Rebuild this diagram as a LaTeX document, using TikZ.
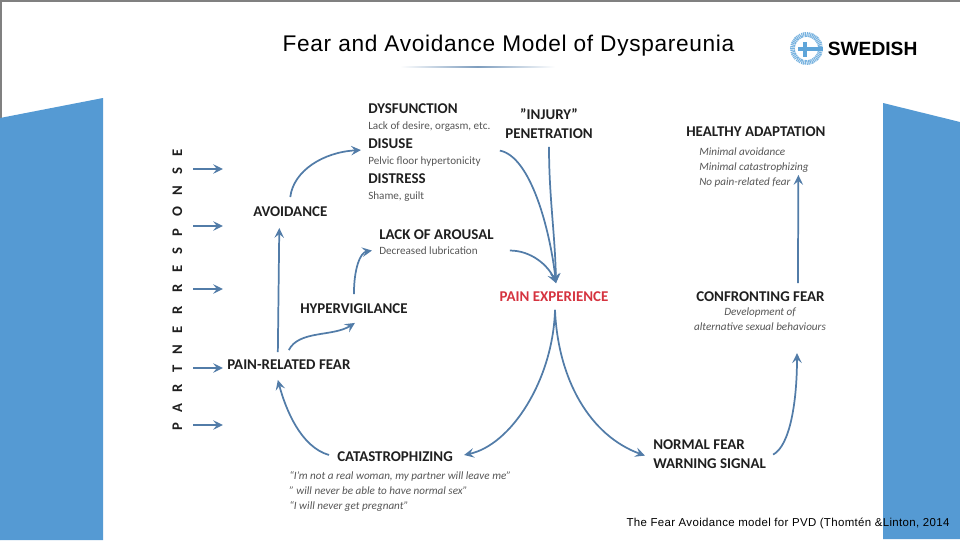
\documentclass[tikz,border=0pt]{standalone}
\usepackage{fontspec}
\setmainfont{Carlito}
\newfontfamily\slidefont{Liberation Sans}
\usepackage{tikz}
\usetikzlibrary{arrows.meta,positioning}
\usepackage{xcolor}
\definecolor{panelblue}{HTML}{559AD3}
\definecolor{flowblue}{HTML}{527CA8}
\definecolor{painred}{HTML}{D5333F}
\definecolor{subgrey}{HTML}{555555}
\definecolor{logoblue}{HTML}{5FA5D9}
\tikzset{
  headtext/.style={
    inner sep=0pt,
    text height=8.75pt,
    text depth=1.25pt,
    text=black!88,
    font=\fontsize{11.2}{13}\selectfont\bfseries
  },
  subtext/.style={
    inner sep=0pt,
    text height=6.75pt,
    text depth=1.25pt,
    text=subgrey,
    font=\fontsize{8.35}{10}\selectfont
  },
  quotetext/.style={
    subtext,
    font=\fontsize{8.35}{10}\selectfont\itshape
  },
  slidetext/.style={
    inner sep=0pt,
    text=black
  },
  arrow/.style={
    -{Stealth[length=2.6mm,width=2.5mm,inset=1mm]},
    line width=1.3pt,
    draw=flowblue
  }
}
\begin{document}
\begin{tikzpicture}[x=0.75pt,y=-0.75pt]
\useasboundingbox (0,0) rectangle (960,540);
% slide frame and side panels
\draw[gray,line width=0.8pt] (1,540) -- (1,1) -- (960,1);
\fill[panelblue] (0,118) -- (103,98) -- (103,540) -- (0,540) -- cycle;
\fill[panelblue] (883,103) -- (960,122) -- (960,539) -- (883,539) -- cycle;
\shade[left color=white,right color=white,middle color=flowblue!75] (400,66.7) rectangle (555,67.8);
% title and caption
\node[slidetext, font=\slidefont\addfontfeature{LetterSpace=3}\fontsize{17}{20}\selectfont] (title) at (508.5,45.5) {Fear and Avoidance Model of Dyspareunia};
\node[slidetext, font=\slidefont\addfontfeature{LetterSpace=3}\fontsize{8.6}{10}\selectfont] (caption) at (788,523) {The Fear Avoidance model for PVD (Thomtén \&Linton, 2014};
% logo
\draw[logoblue!85,line width=3.6pt,dash pattern=on 0.8pt off 0.5pt] (806.5,48.5) circle (14);
\draw[logoblue,line width=3.4pt] (798,49) -- (823,49);
\draw[logoblue,line width=3.4pt] (805,42) -- (805,57);
\node[slidetext, anchor=west, font=\slidefont\fontsize{14.4}{16}\selectfont\bfseries] (swedish) at (827.5,48.5) {SWEDISH};
% side label
\node[headtext, rotate=90, font=\addfontfeature{LetterSpace=77}\fontsize{11}{13}\selectfont\bfseries] (partner) at (177,290) {PARTNER RESPONSE};
\coordinate (partnera) at (193,169);
\coordinate (partnerb) at (193,226);
\coordinate (partnerc) at (193,289);
\coordinate (partnerd) at (193,368);
\coordinate (partnere) at (193,425);
% left column
\node[headtext, anchor=west] (dysfunction) at (368,108) {DYSFUNCTION};
\node[subtext, below=3.75pt of dysfunction.south west, anchor=north west] (dysfunctionsub) {Lack of desire, orgasm, etc.};
\node[headtext, below=3.75pt of dysfunctionsub.south west, anchor=north west] (disuse) {DISUSE};
\node[subtext, below=3.75pt of disuse.south west, anchor=north west] (disusesub) {Pelvic floor hypertonicity};
\node[headtext, below=3.75pt of disusesub.south west, anchor=north west] (distress) {DISTRESS};
\node[subtext, below=3.75pt of distress.south west, anchor=north west] (distresssub) {Shame, guilt};
\node[headtext, anchor=west] (avoidance) at (253,211) {AVOIDANCE};
\node[headtext, anchor=west] (arousal) at (379,234) {LACK OF AROUSAL};
\node[subtext, below=3pt of arousal.south west, anchor=north west] (arousalsub) {Decreased lubrication};
\node[headtext, anchor=west] (hypervigilance) at (300,308) {HYPERVIGILANCE};
\node[headtext, anchor=west] (fear) at (227,364) {PAIN-RELATED FEAR};
\node[headtext, anchor=west] (catastrophizing) at (337,456) {CATASTROPHIZING};
\node[quotetext, anchor=west] (quotewoman) at (289,476) {“I’m not a real woman, my partner will leave me”};
\node[quotetext, below=2.75pt of quotewoman.south west, anchor=north west] (quotesex) {” will never be able to have normal sex”};
\node[quotetext, below=2.75pt of quotesex.south west, anchor=north west] (quotepregnant) {“I will never get pregnant”};
% middle column
\node[headtext] (injury) at (549,114) {”INJURY”};
\node[headtext] (penetration) at (549,133) {PENETRATION};
\node[headtext, text=painred] (pain) at (554,296) {PAIN EXPERIENCE};
% right column
\node[headtext, anchor=west] (healthy) at (686,131) {HEALTHY ADAPTATION};
\node[quotetext, anchor=west] (healthya) at (699,152) {Minimal avoidance};
\node[quotetext, below=2.9pt of healthya.south west, anchor=north west] (healthyb) {Minimal catastrophizing};
\node[quotetext, below=2.9pt of healthyb.south west, anchor=north west] (healthyc) {No pain-related fear};
\node[headtext, anchor=west] (confronting) at (696,296) {CONFRONTING FEAR};
\node[quotetext] (confrontinga) at (760,312) {Development of};
\node[quotetext, below=2.5pt of confrontinga] (confrontingb) {alternative sexual behaviours};
\node[headtext, anchor=west] (normalfear) at (653,444) {NORMAL FEAR};
\node[headtext, below=4.25pt of normalfear.south west, anchor=north west] (warning) {WARNING SIGNAL};
% connectors
\draw[arrow] (partnera) -- ++(30,0);
\draw[arrow] (partnerb) -- ++(30,0);
\draw[arrow] (partnerc) -- ++(30,0);
\draw[arrow, shorten >=3pt] (partnerd) -- (partnerd -| fear.west);
\draw[arrow] (partnere) -- ++(30,0);
\draw[arrow] ([shift={(0,-7)}]avoidance.north) .. controls +(3,-26) and +(-38,2) .. ([shift={(-7,7)}]disuse.west);
\draw[arrow] ([shift={(-11,-5)}]fear.north) -- ([shift={(-11,10)}]avoidance.south);
\draw[arrow] ([shift={(0,-7)}]fear.north) .. controls +(10,-20) and +(-22,14) .. ([shift={(1,8)}]hypervigilance.south);
\draw[arrow] ([shift={(0,-7)}]hypervigilance.north) .. controls +(0,-25) and +(-12,2) .. ([shift={(-7,0)}]arousalsub.west);
\draw[arrow] (catastrophizing.west) ++(-8,-1) .. controls +(-28,-8) and +(8,30) .. ([shift={(-11,9)}]fear.south);
\draw[arrow] ([shift={(1,7)}]pain.south) .. controls +(-2,70) and +(47,-10) .. ([shift={(11,-1)}]catastrophizing.east);
\draw[arrow] ([shift={(1,7)}]pain.south) .. controls +(3,70) and +(-55,-20) .. ([shift={(-8,-1)}]warning.north west);
\draw[arrow] ([shift={(7,-2)}]warning.north east) .. controls +(17,-9) and +(0,48) .. ([shift={(37,21)}]confrontingb.south);
\draw[arrow] ([shift={(37.5,-6)}]confronting.north) -- ([shift={(42.5,37)}]healthy.south);
\draw[arrow] ([shift={(0,7)}]penetration.south) .. controls +(0,50) and +(-1,-50) .. ([shift={(2,-6)}]pain.north);
\draw[arrow] ([shift={(19,-10)}]disusesub.east) .. controls +(31,6) and +(-6,-53) .. ([shift={(2,-6)}]pain.north);
\draw[arrow] ([shift={(32,0)}]arousalsub.east) .. controls +(21,0) and +(-8,-18) .. ([shift={(2,-6)}]pain.north);
\end{tikzpicture}
\end{document}
